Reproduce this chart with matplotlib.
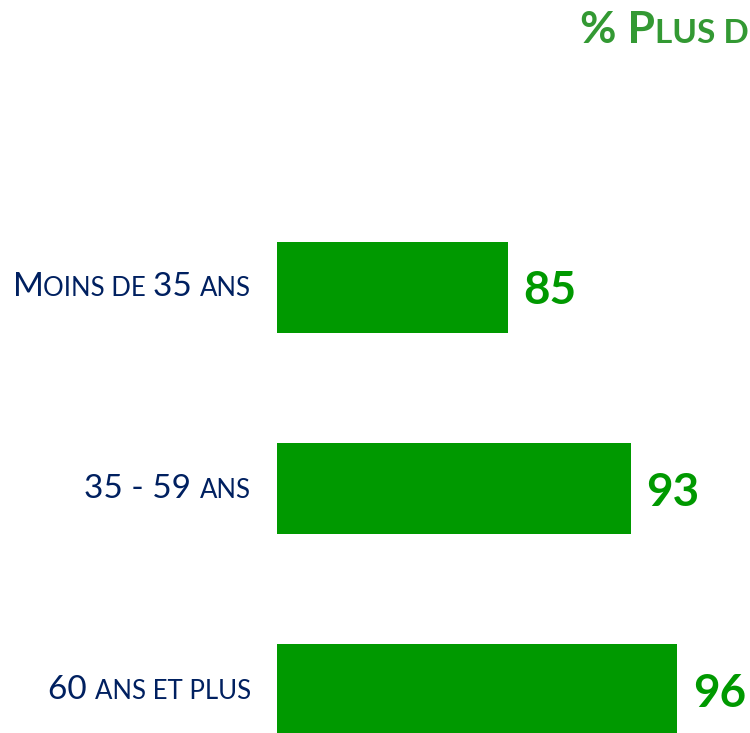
import matplotlib
matplotlib.use("Agg")
import matplotlib.pyplot as plt
from matplotlib.offsetbox import TextArea, HPacker, AnnotationBbox

# data
categories = ["Moins de 35 ans", "35 - 59 ans", "60 ans et plus"]
values = [85, 93, 96]
title = "% Plus d"

GREEN = "#009900"
TITLE_GREEN = "#339933"
NAVY = "#002060"
FONT = ["Lato", "DejaVu Sans"]


def small_caps(s, big, small, color, weight="normal"):
    # split into runs of "big" (caps/digits) and "small" (lowercase) letters
    runs = []
    for ch in s:
        kind = "small" if ch.islower() else ("space" if ch == " " else "big")
        if kind == "space" and runs:
            runs[-1][1] += ch
            continue
        if runs and runs[-1][0] == kind:
            runs[-1][1] += ch
        else:
            runs.append([kind, ch])
    children = []
    for kind, txt in runs:
        size = small if kind == "small" else big
        children.append(TextArea(txt.upper(), textprops=dict(
            fontsize=size, color=color, fontweight=weight, family=FONT)))
    return HPacker(children=children, align="baseline", pad=0, sep=0)


fig = plt.figure(figsize=(7.5, 7.33), dpi=100)
ax = fig.add_axes([277 / 750, 0, 1 - 277 / 750, 1])

y = list(range(len(values)))
ax.barh(y, values, height=0.453, color=GREEN)
ax.set_xlim(70, 70 + (750 - 277) / 15.375)
ax.set_ylim(2.216, -1.430)
ax.axis("off")

for i, v in enumerate(values):
    ax.annotate(str(v), xy=(v, i), xytext=(11.5, 0), textcoords="offset points",
                va="center_baseline", ha="left", fontsize=33, fontweight="bold",
                color=GREEN, family=FONT)

# category labels, right aligned next to the bars
for i, cat in enumerate(categories):
    box = small_caps(cat, 24, 18.5, NAVY)
    ab = AnnotationBbox(box, xy=(251 / 750, i), xycoords=("figure fraction", ax.transData),
                        box_alignment=(1, 0.5), frameon=False, pad=0)
    ab.set_clip_on(False)
    ax.add_artist(ab)

# title (cut at the right edge)
tbox = small_caps(title, 32, 24, TITLE_GREEN, weight="bold")
tab = AnnotationBbox(tbox, xy=(580, 733 - 38), xycoords="figure pixels",
                     box_alignment=(0, 0.3), frameon=False, pad=0)
fig.add_artist(tab)

fig.savefig("out.png", dpi=100)
